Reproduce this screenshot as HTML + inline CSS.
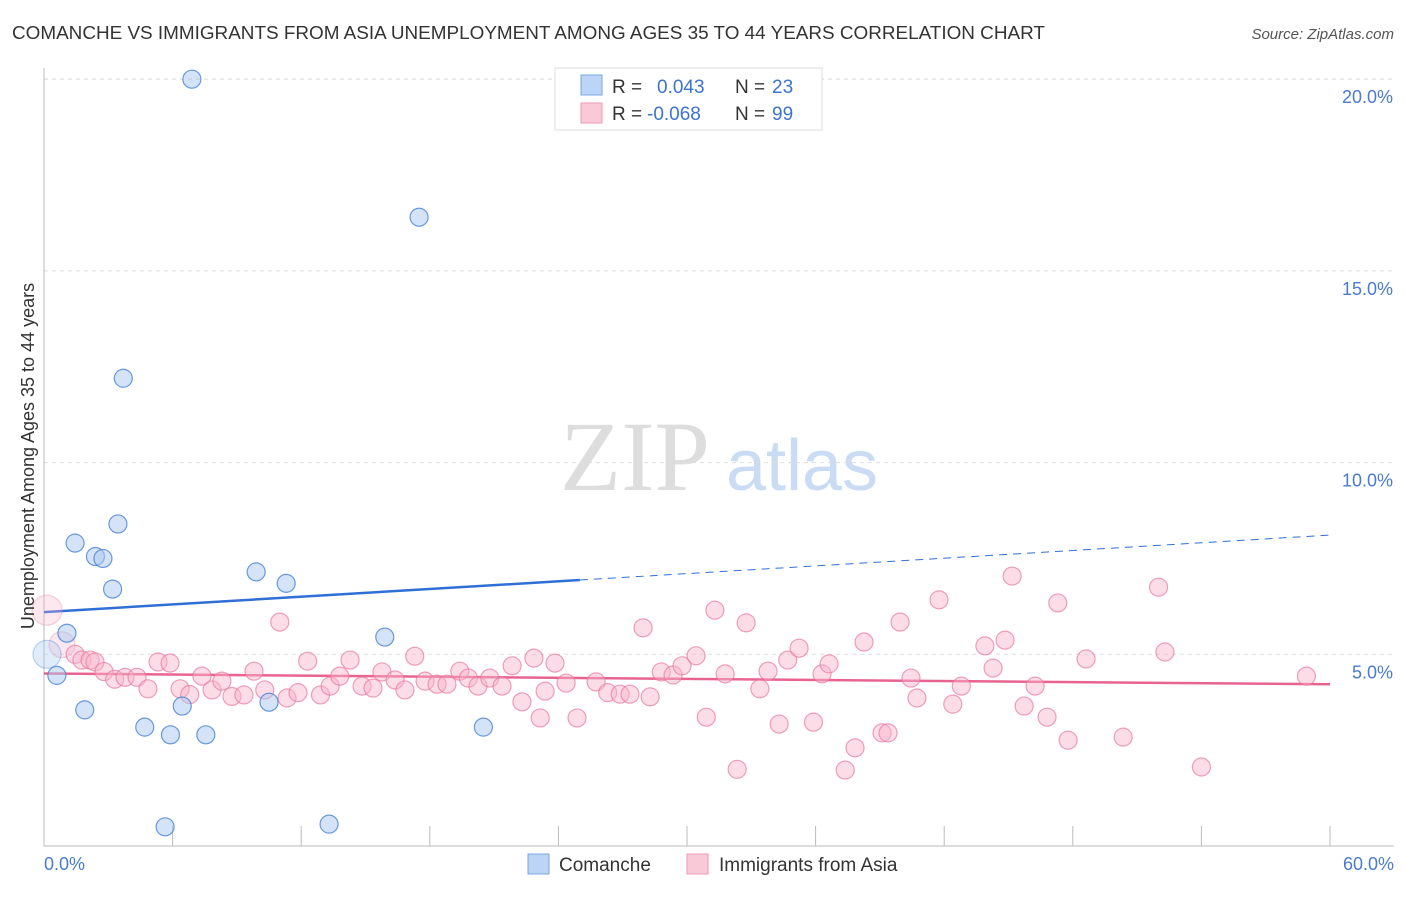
<!DOCTYPE html>
<html><head><meta charset="utf-8"><style>
body{margin:0;background:#fff;font-family:"Liberation Sans",sans-serif}
svg text{font-family:"Liberation Sans",sans-serif}
</style></head><body>
<svg width="1406" height="892" viewBox="0 0 1406 892" xmlns="http://www.w3.org/2000/svg" id="chart">
<text x="12" y="39" font-size="18.9" fill="#333">COMANCHE VS IMMIGRANTS FROM ASIA UNEMPLOYMENT AMONG AGES 35 TO 44 YEARS CORRELATION CHART</text>
<text x="1394" y="39" font-size="15" fill="#555" font-style="italic" text-anchor="end">Source: ZipAtlas.com</text>
<g>
<text x="635" y="490" font-size="100" fill="#ddd" style="font-family:'Liberation Serif',serif" text-anchor="middle">ZIP</text>
<text x="802" y="490" font-size="72" fill="#c9dcf3" text-anchor="middle">atlas</text>
</g>
<g id="grid"></g>
<g id="axes"></g>
<g id="lines"></g>
<g id="pts"></g>
<text transform="translate(34,456) rotate(-90)" font-size="18" fill="#333" text-anchor="middle">Unemployment Among Ages 35 to 44 years</text>
<text x="44" y="870" font-size="18" fill="#4a7bd0">0.0%</text>
<text x="1394" y="870" font-size="18" fill="#4a7bd0" text-anchor="end">60.0%</text>
<g>
<rect x="555" y="68" width="267" height="62" fill="#fff" stroke="#ddd"/>
<rect x="581" y="75" width="21" height="20" fill="#bcd4f5" stroke="#7aa6e0"/>
<rect x="581" y="103" width="21" height="20" fill="#fac9d8" stroke="#ee9ab4"/>
<text x="612" y="93" font-size="19" fill="#333">R = </text><text x="657" y="93" font-size="19" fill="#3b74d0">0.043</text>
<text x="735" y="93" font-size="19" fill="#333">N = </text><text x="772" y="93" font-size="19" fill="#3b74d0">23</text>
<text x="612" y="120" font-size="19" fill="#333">R = </text><text x="647" y="120" font-size="19" fill="#3b74d0">-0.068</text>
<text x="735" y="120" font-size="19" fill="#333">N = </text><text x="772" y="120" font-size="19" fill="#3b74d0">99</text>
</g>
<g>
<rect x="528" y="854" width="21" height="20" fill="#bcd4f5" stroke="#7aa6e0"/>
<text x="559" y="871" font-size="19" fill="#333">Comanche</text>
<rect x="687" y="854" width="21" height="20" fill="#fac9d8" stroke="#ee9ab4"/>
<text x="719" y="871" font-size="19" fill="#333">Immigrants from Asia</text>
</g>
</svg>
<script>
const yTicks=[5,10,15,20];
const yTickLabels=["5.0%","10.0%","15.0%","20.0%"];
const xTicks=[0,6,12,18,24,30,36,42,48,54,60];
const blueX=[6.9,17.5,3.7,3.45,1.45,2.4,2.75,3.2,9.9,11.3,1.07,15.9,0.6,1.9,6.45,10.5,4.7,5.9,7.55,20.5,5.65,13.3,0.14];
const blueY=[20.0,16.4,12.2,8.4,7.9,7.55,7.5,6.7,7.15,6.85,5.55,5.45,4.45,3.55,3.65,3.75,3.1,2.9,2.9,3.1,0.5,0.57,5.0];
const pinkX=[0.14,0.84,1.45,1.77,2.15,2.38,2.8,3.3,3.78,4.34,4.85,5.32,5.88,6.35,6.8,7.37,7.84,8.3,8.77,9.33,9.8,10.3,11.0,11.34,11.85,12.3,12.9,13.35,13.8,14.28,14.84,15.35,15.77,16.38,16.84,17.3,17.78,18.34,18.8,19.4,19.8,20.25,20.8,21.37,21.84,22.3,22.86,23.38,23.84,24.36,24.87,25.76,26.3,26.88,27.34,27.95,28.28,28.8,29.35,29.77,30.42,30.9,31.3,31.78,32.34,32.76,33.4,33.78,34.3,34.7,35.23,35.9,36.3,36.63,37.38,37.84,38.26,39.1,39.38,39.94,40.45,40.73,41.76,42.4,42.8,43.9,44.28,44.84,45.17,45.73,46.24,46.8,47.3,47.78,48.62,50.35,52.0,52.3,54.0,58.9,23.15];
const pinkY=[6.15,5.25,5.0,4.85,4.85,4.8,4.55,4.35,4.4,4.4,4.1,4.8,4.77,4.1,3.95,4.43,4.07,4.3,3.9,3.94,4.56,4.07,5.84,3.86,4.0,4.82,3.94,4.17,4.43,4.85,4.17,4.12,4.54,4.33,4.07,4.95,4.3,4.22,4.22,4.56,4.38,4.17,4.38,4.17,4.7,3.76,4.9,4.04,4.77,4.25,3.34,4.28,4.0,3.96,3.96,5.69,3.89,4.54,4.46,4.7,4.96,3.36,6.15,4.49,2.0,5.82,4.1,4.56,3.18,4.85,5.16,3.23,4.49,4.75,1.98,2.56,5.32,2.95,2.95,5.84,4.38,3.86,6.42,3.7,4.17,5.22,4.64,5.37,7.04,3.65,4.17,3.36,6.34,2.76,4.88,2.84,6.75,5.06,2.06,4.43,3.34];
const blueFit=[6.1,0.0335];
const pinkFit=[4.5,-0.0047];
const X=v=>44+v/60*1286;
const Y=v=>846-v/5*191.7;
const NS="http://www.w3.org/2000/svg";
function mk(parent,tag,attrs){const e=document.createElementNS(NS,tag);for(const k in attrs)e.setAttribute(k,attrs[k]);document.getElementById(parent).appendChild(e);return e;}
let e;
e=mk('grid','line',{x1:44,x2:1394,y1:79,y2:79,stroke:'#ddd','stroke-dasharray':'4,4'});


yTicks.forEach((t,i)=>{
 e=mk('grid','line',{x1:44,x2:1394,y1:Y(t),y2:Y(t),stroke:'#ddd','stroke-dasharray':'4,4'});
 
 
 e=mk('grid','text',{x:1393,y:Y(t)+24,'font-size':18,fill:'#4a7bd0','text-anchor':'end'});
 e.textContent=yTickLabels[i];
 
 
});
e=mk('axes','line',{x1:44,x2:44,y1:68,y2:846,stroke:'#bbb'});


e=mk('axes','line',{x1:44,x2:1394,y1:846,y2:846,stroke:'#bbb'});


xTicks.forEach(t=>{
 e=mk('axes','line',{x1:X(t),x2:X(t),y1:826,y2:846,stroke:'#bbb'});
 
 
});
function pt(g,x,y,r,fill,stroke,name){
 e=mk(g,'circle',{cx:X(x),cy:Y(y),r:r,fill:fill,stroke:stroke,'stroke-width':1.2});
 
 
}
pinkX.forEach((x,i)=>{
 const big=i<2;
 pt('pts',x,pinkY[i],big?(i==0?15:13):9,big?'rgba(248,180,202,0.3)':'rgba(248,180,202,0.45)',big?'rgba(232,120,160,0.35)':'rgba(232,120,160,0.7)','asia-point');
});
blueX.forEach((x,i)=>{
 const big=i==22;
 pt('pts',x,blueY[i],big?14:9,big?'rgba(170,200,240,0.35)':'rgba(170,200,240,0.5)',big?'rgba(70,130,215,0.35)':'rgba(70,130,215,0.8)','comanche-point');
});
e=mk('lines','line',{x1:X(0),y1:Y(blueFit[0]),x2:X(25),y2:Y(blueFit[0]+blueFit[1]*25),stroke:'#2f6fd6','stroke-width':2.5});


e=mk('lines','line',{x1:X(25),y1:Y(blueFit[0]+blueFit[1]*25),x2:X(60),y2:Y(blueFit[0]+blueFit[1]*60),stroke:'#2f6fd6','stroke-width':1,'stroke-dasharray':'8,6'});


e=mk('lines','line',{x1:X(0),y1:Y(pinkFit[0]),x2:X(60),y2:Y(pinkFit[0]+pinkFit[1]*60),stroke:'#e8648f','stroke-width':2.5});


</script>
</body></html>
